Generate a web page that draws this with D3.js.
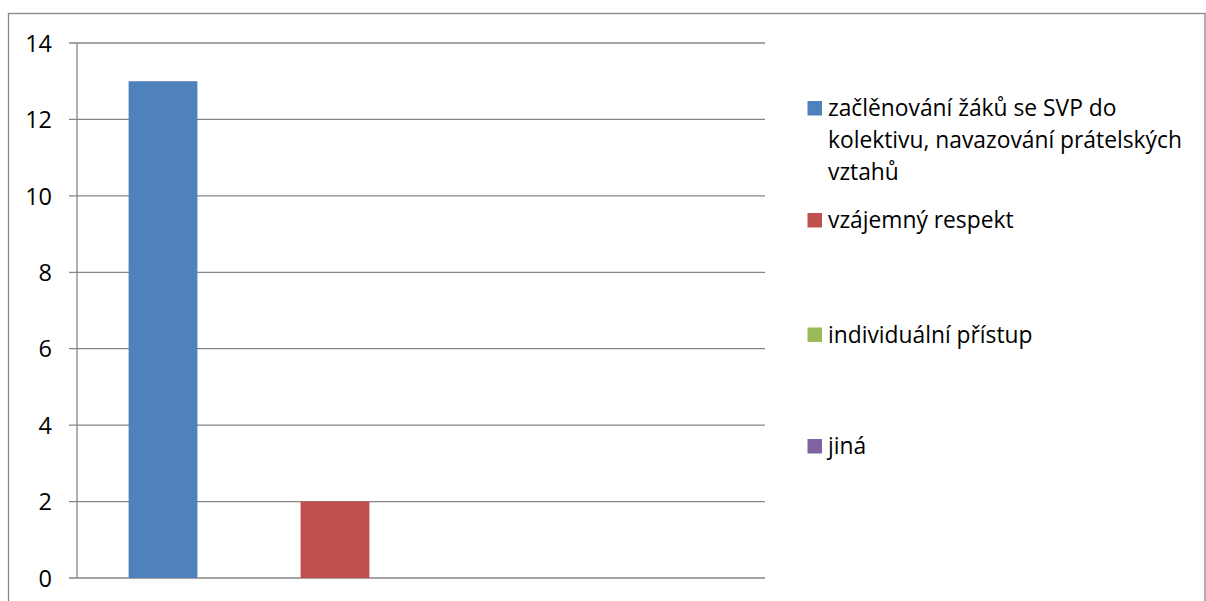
<!DOCTYPE html>
<html>
<head>
<meta charset="utf-8">
<script src="https://cdn.jsdelivr.net/npm/d3@7"></script>
<style>
  html, body { margin: 0; padding: 0; background: #fff; }
  svg { display: block; }
  text { font-family: "Open Sans", "Noto Sans", sans-serif; fill: #000; }
</style>
</head>
<body>
<svg id="chart" width="1206" height="601"></svg>
<script>
const categories = [
  "začlěnování žáků se SVP do kolektivu, navazování prátelských vztahů",
  "vzájemný respekt",
  "individuální přístup",
  "jiná"
];
const legendLines = [
  ["začlěnování žáků se SVP do", "kolektivu, navazování prátelských", "vztahů"],
  ["vzájemný respekt"],
  ["individuální přístup"],
  ["jiná"]
];
const values = [13, 2, 0, 0];
const colors = ["#4F81BD", "#C0504D", "#9BBB59", "#8064A2"];
const yTicks = [0, 2, 4, 6, 8, 10, 12, 14];

const svg = d3.select("#chart");
const axisColor = "#868686";

// outer border
svg.append("rect")
  .attr("x", 8.5).attr("y", 13.5)
  .attr("width", 1196.5).attr("height", 620)
  .attr("fill", "none").attr("stroke", axisColor).attr("stroke-width", 1.3);

const plot = { left: 77, right: 765, top: 43, bottom: 578 };

const x = d3.scaleBand()
  .domain(categories)
  .range([plot.left, plot.right])
  .paddingInner(0.6)
  .paddingOuter(0.3);

const y = d3.scaleLinear()
  .domain([0, 14])
  .range([plot.bottom, plot.top]);

// gridlines
svg.append("g")
  .selectAll("line")
  .data(yTicks)
  .join("line")
  .attr("x1", plot.left - 8).attr("x2", plot.right)
  .attr("y1", d => y(d)).attr("y2", d => y(d))
  .attr("stroke", axisColor).attr("stroke-width", 1.3);

// y axis line
svg.append("line")
  .attr("x1", plot.left).attr("x2", plot.left)
  .attr("y1", plot.top).attr("y2", plot.bottom)
  .attr("stroke", axisColor).attr("stroke-width", 1.3);

// y labels
const yAxis = d3.axisLeft(y).tickValues(yTicks).tickSize(0).tickPadding(0);
const yg = svg.append("g")
  .attr("transform", `translate(${plot.left - 25},0)`)
  .call(yAxis);
yg.select(".domain").remove();
yg.selectAll("text")
  .attr("font-family", "'Open Sans', sans-serif")
  .attr("font-size", 23.5)
  .attr("fill", "#000")
  .attr("dy", "0.35em");

// bars
svg.append("g")
  .selectAll("rect")
  .data(categories)
  .join("rect")
  .attr("x", d => x(d))
  .attr("width", x.bandwidth())
  .attr("y", (d, i) => y(values[i]))
  .attr("height", (d, i) => y(0) - y(values[i]))
  .attr("fill", (d, i) => colors[i]);

// legend
const legendBaselines = [116, 228, 342.5, 454];
const lg = svg.append("g");
legendLines.forEach((lines, i) => {
  const b = legendBaselines[i];
  lg.append("rect")
    .attr("x", 807.5).attr("y", b - 15)
    .attr("width", 14.5).attr("height", 14.5)
    .attr("fill", colors[i]);
  const t = lg.append("text")
    .attr("x", 828)
    .attr("y", b)
    .attr("font-size", 22.8);
  lines.forEach((ln, j) => {
    t.append("tspan").attr("x", 828).attr("y", b + j * 32).text(ln);
  });
});
</script>
</body>
</html>
